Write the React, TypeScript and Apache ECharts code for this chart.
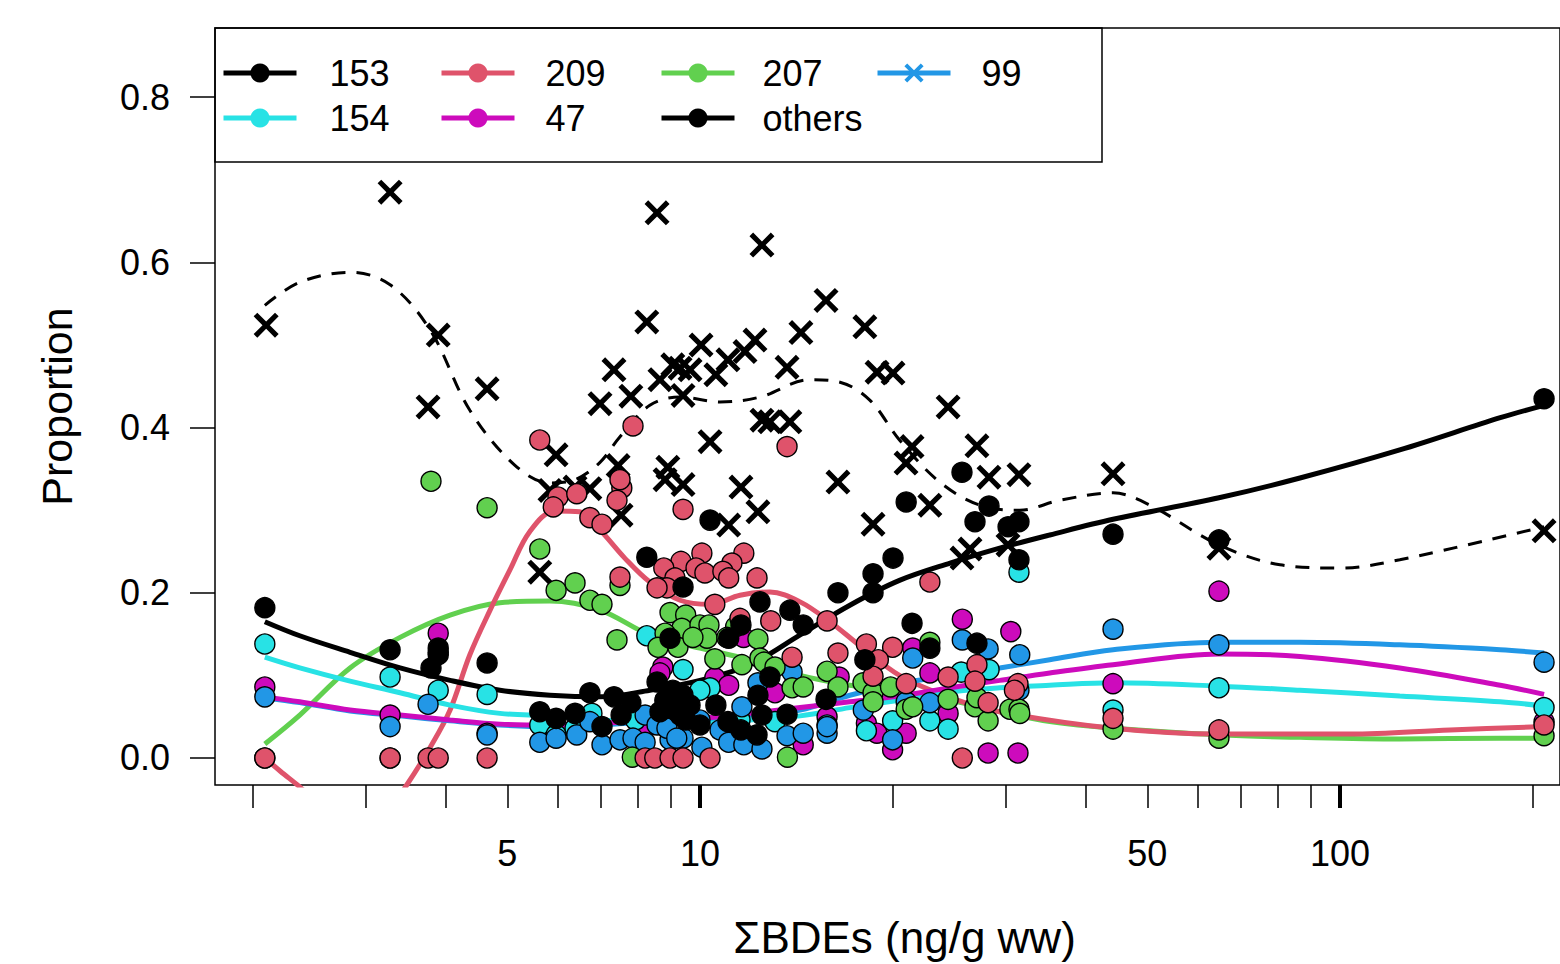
import React, { useEffect, useRef } from "react";
import * as echarts from "echarts";

const COLORS = { c153: "#000000", c154: "#28E2E5", c209: "#DF536B", c47: "#CD0BBC", c207: "#61D04F", others: "#000000", c99: "#2297E6" };
const X_PATH = "path://M0 3.5L3.5 0L12 8.5L20.5 0L24 3.5L15.5 12L24 20.5L20.5 24L12 15.5L3.5 24L0 20.5L8.5 12Z";

const xMinorTicks = [2, 3, 4, 5, 6, 7, 8, 9, 10, 20, 30, 40, 50, 60, 70, 80, 90, 100, 200];
const xMajorTicks = [10, 100];
const xTickLabels = [5, 10, 50, 100];
const yTickLabels = [0, 0.2, 0.4, 0.6, 0.8];

// fitted curves
const curveX = [2.09, 2.37, 2.84, 3.4, 4.07, 4.87, 5.83, 6.98, 8.35, 10, 11.97, 14.34, 17.15, 20.5, 24.6, 29.4, 35.2, 44.2, 64.7, 86.6, 124, 178, 208.4];
const curve153 = [0.165, 0.148, 0.128, 0.109, 0.094, 0.082, 0.076, 0.074, 0.082, 0.094, 0.113, 0.149, 0.185, 0.215, 0.236, 0.254, 0.27, 0.289, 0.315, 0.339, 0.373, 0.412, 0.427];
const curve154 = [0.122, 0.109, 0.093, 0.079, 0.064, 0.054, 0.051, 0.046, 0.044, 0.044, 0.046, 0.051, 0.061, 0.07, 0.08, 0.085, 0.088, 0.091, 0.087, 0.082, 0.075, 0.068, 0.063];
const curve47 = [0.074, 0.068, 0.058, 0.052, 0.046, 0.041, 0.04, 0.042, 0.045, 0.048, 0.054, 0.061, 0.068, 0.075, 0.085, 0.094, 0.103, 0.113, 0.126, 0.123, 0.109, 0.088, 0.077];
const curve99 = [0.073, 0.067, 0.057, 0.051, 0.045, 0.04, 0.038, 0.04, 0.044, 0.047, 0.052, 0.058, 0.076, 0.09, 0.1, 0.109, 0.119, 0.131, 0.14, 0.14, 0.137, 0.131, 0.127];
const curve207 = [0.017, 0.052, 0.109, 0.146, 0.173, 0.188, 0.19, 0.179, 0.149, 0.133, 0.119, 0.1, 0.088, 0.079, 0.07, 0.056, 0.044, 0.036, 0.028, 0.025, 0.023, 0.024, 0.024];
const curve209X = [2.09, 2.21, 2.37, 2.84, 3.22, 3.48, 3.79, 4.07, 4.37, 4.7, 5.05, 5.42, 5.93, 6.49, 6.98, 7.63, 8.35, 9.31, 10.37, 11.55, 12.86, 14.34, 15.96, 17.78, 20.5, 24.6, 29.4, 44.2, 64.7, 103.7, 148.6, 208.4];
const curve209 = [0, -0.016, -0.035, -0.087, -0.069, -0.033, 0.013, 0.058, 0.125, 0.179, 0.228, 0.274, 0.299, 0.298, 0.276, 0.242, 0.213, 0.191, 0.186, 0.197, 0.201, 0.189, 0.165, 0.136, 0.1, 0.073, 0.056, 0.036, 0.029, 0.029, 0.034, 0.038];
const curveOthersX = [2.09, 2.37, 2.84, 3.28, 3.79, 4.37, 5.13, 5.83, 6.38, 6.98, 7.5, 8.35, 9.31, 10.75, 12.41, 14.86, 16.55, 18.44, 20.5, 23.7, 27.4, 31.6, 36.5, 44.2, 50.5, 64.7, 80.6, 100, 124, 208.4];
const curveOthers = [0.548, 0.576, 0.588, 0.573, 0.518, 0.421, 0.355, 0.333, 0.337, 0.358, 0.389, 0.427, 0.437, 0.431, 0.437, 0.458, 0.455, 0.433, 0.385, 0.334, 0.306, 0.3, 0.312, 0.321, 0.306, 0.258, 0.234, 0.23, 0.24, 0.28];

// sample points [sum of BDEs, proportion]
const points153 = [[2.09,.182],[3.28,.131],[3.8,.109],[3.9,.133],[3.9,.125],[4.65,.115],[5.62,.056],[5.96,.048],[6.38,.054],[6.73,.079],[7.03,.038],[7.34,.074],[7.53,.052],[7.8,.067],[8.26,.243],[8.57,.092],[8.66,.056],[8.82,.07],[8.98,.145],[9.07,.082],[9.14,.058],[9.31,.052],[9.41,.207],[9.41,.076],[9.5,.046],[9.65,.064],[10,.04],[10.37,.288],[10.59,.064],[11.09,.145],[11.06,.044],[11.59,.034],[11.59,.161],[12.41,.189],[12.32,.076],[12.28,.028],[12.5,.052],[12.86,.098],[13.68,.053],[13.82,.179],[14.5,.161],[15.74,.071],[16.43,.2],[18.1,.119],[18.64,.223],[18.64,.2],[20.03,.242],[21,.31],[21.45,.163],[22.87,.133],[25.67,.346],[27.09,.139],[26.9,.286],[28.29,.305],[30.3,.28],[31.51,.286],[31.51,.24],[44.2,.271],[64.7,.264],[208.4,.435]];
const points209 = [[2.09,0],[3.28,0],[3.76,0],[3.9,0],[4.65,0],[5.62,.385],[6,.316],[6.42,.32],[5.9,.304],[6.73,.291],[7.03,.283],[7.55,.327],[7.5,.337],[7.42,.312],[7.86,.402],[9.41,.301],[13.68,.377],[8.21,0],[8.5,0],[8.98,0],[9.41,0],[10.37,0],[10.07,.248],[11.71,.248],[9.34,.238],[11.22,.236],[8.78,.23],[9.86,.23],[10.18,.224],[10.86,.226],[11.09,.218],[12.28,.218],[9.14,.218],[8.88,.206],[8.57,.206],[10.55,.186],[11.55,.169],[12.9,.166],[13.93,.122],[7.5,.219],[15.8,.166],[18.2,.138],[16.43,.127],[20,.134],[19,.119],[22.87,.213],[18.64,.099],[21,.09],[24.42,.098],[27.09,.113],[26.9,.093],[28.2,.067],[31.4,.09],[31,.082],[25.7,0],[44.2,.048],[64.7,.034],[208.4,.04]];
const points207 = [[2.09,0],[3.28,0],[3.8,.335],[4.65,.303],[5.62,.253],[5.96,.203],[6.38,.212],[6.73,.191],[7.03,.186],[7.42,.143],[7.5,.209],[7.84,.001],[8.98,.176],[9.5,.173],[9.37,.157],[10,.161],[10.33,.161],[8.82,.151],[10.26,.145],[8.6,.134],[9.24,.134],[10.55,.12],[11.63,.113],[12.32,.144],[12.41,.121],[9.75,.146],[11.37,.159],[11.02,.146],[12.59,.116],[13.1,.11],[13.93,.085],[14.5,.086],[15.8,.105],[16.43,.086],[17.98,.091],[18.64,.079],[18.64,.068],[19.85,.086],[21,.059],[21.5,.062],[22.87,.14],[24.42,.071],[26.9,.062],[27.09,.073],[28.2,.045],[30.5,.059],[31.51,.059],[31.6,.054],[44.2,.035],[64.7,.024],[208.4,.027],[13.7,.001]];
const points154 = [[2.09,.138],[3.28,.098],[3.9,.082],[4.65,.077],[5.62,.04],[5.96,.028],[6.38,.036],[6.78,.054],[7.93,.046],[8.26,.148],[9.41,.107],[10.37,.085],[10,.082],[11.55,.046],[13.1,.044],[18.2,.033],[15.8,.04],[20,.045],[22.87,.045],[24.42,.035],[25.6,.104],[28.3,.107],[31.51,.225],[44.2,.058],[64.7,.085],[208.4,.061]];
const points47 = [[2.09,.086],[3.28,.052],[3.9,.151],[4.65,.03],[8.15,.031],[8.75,.11],[8.66,.103],[10.55,.097],[11.09,.088],[13.1,.079],[11.7,.146],[14.5,.016],[16.5,.098],[18.2,.042],[18.9,.03],[21,.03],[20,.01],[21.5,.133],[22.87,.103],[24.42,.054],[25.7,.168],[30.6,.153],[28.2,.006],[31.4,.006],[44.2,.09],[64.7,.202],[15.8,.05],[208.4,.044]];
const points99 = [[2.09,.074],[3.28,.038],[3.76,.065],[3.9,.128],[4.65,.028],[5.62,.019],[5.96,.024],[6.42,.028],[6.73,.044],[7.03,.016],[7.5,.022],[7.86,.024],[8.21,.052],[8.57,.04],[8.21,.019],[8.98,.022],[9.41,.024],[8.88,.036],[9.2,.024],[10.07,.013],[10,.046],[8.82,.07],[10.75,.034],[11.09,.019],[11.71,.016],[12.5,.011],[11.63,.062],[12.32,.091],[13.93,.104],[13.68,.027],[14.5,.03],[15.8,.03],[15.8,.038],[18,.058],[22.87,.067],[20,.022],[21,.068],[31.51,.082],[21.5,.121],[25.7,.143],[28.2,.132],[31.6,.125],[44.2,.156],[64.7,.137],[208.4,.116]];
const pointsOthers = [[2.1,.524],[3.28,.685],[3.76,.425],[3.9,.512],[4.65,.447],[5.62,.225],[5.96,.367],[5.83,.324],[6.38,.328],[6.73,.326],[6.98,.429],[7.34,.47],[7.45,.354],[7.53,.294],[7.8,.438],[8.26,.528],[8.57,.66],[8.66,.458],[8.82,.337],[8.91,.352],[9.07,.476],[9.31,.472],[9.41,.331],[9.41,.439],[9.65,.47],[10.04,.5],[10.37,.383],[10.59,.464],[11.06,.482],[11.09,.282],[11.59,.328],[11.76,.492],[12.19,.506],[12.32,.298],[12.5,.621],[12.5,.409],[12.86,.407],[13.68,.473],[13.82,.407],[14.38,.515],[15.74,.554],[16.43,.334],[18.1,.522],[18.64,.283],[18.91,.467],[20.03,.466],[20.99,.357],[21.45,.377],[22.87,.306],[24.42,.425],[25.67,.242],[26.42,.253],[27.09,.378],[28.29,.34],[30.29,.258],[31.51,.343],[44.2,.344],[64.7,.254],[208.4,.275]];

const zip = (xs: number[], ys: number[]) => xs.map((x, i) => [x, ys[i]]);
const FONT = "Liberation Sans";

const curve = (name: string, xs: number[], ys: number[], color: string, symbol = "circle", dashed = false) => ({
  type: "line", name, data: zip(xs, ys), smooth: 0.35, showSymbol: false, symbol, z: 2, silent: true,
  itemStyle: { color },
  lineStyle: { color, width: dashed ? 3 : 5, type: dashed ? [14, 11] : "solid" },
});
const scatter = (name: string, data: number[][], color: string, z: number) => ({
  type: "scatter", name, data, symbol: "circle", symbolSize: 20, z, silent: true,
  itemStyle: { color, borderColor: "#000", borderWidth: 1.4, opacity: 1 },
});
const legend = (names: string[], left: number, textPad: number) => ({
  data: names, left, top: 55, orient: "vertical", padding: 0, itemWidth: 73, itemHeight: 24, itemGap: 9,
  selectedMode: false,
  lineStyle: { type: "solid", width: 5 },
  textStyle: { fontFamily: FONT, fontSize: 36, color: "#000", lineHeight: 36, padding: [0, 0, 0, textPad] },
});

export default function App() {
  const ref = useRef<HTMLDivElement>(null);
  useEffect(() => {
    const chart = echarts.init(ref.current!, undefined, { renderer: "svg" });
    chart.setOption({
      animation: false,
      backgroundColor: "#fff",
      grid: { left: 215, right: 0, top: 28, bottom: 179, outerBoundsMode: "none", show: true, borderColor: "#000", borderWidth: 1.5, backgroundColor: "transparent" },
      xAxis: [
        {
          type: "log", logBase: 10, min: 1.747, max: 220.7, position: "bottom",
          name: "\u03A3BDEs (ng/g ww)", nameLocation: "middle", nameGap: 130,
          nameTextStyle: { fontFamily: FONT, fontSize: 44, lineHeight: 44, color: "#000", padding: [0, 0, 0, 34] },
          axisLine: { show: false, onZero: false }, splitLine: { show: false }, minorTick: { show: false },
          axisTick: { show: true, length: 23, lineStyle: { color: "#000", width: 1.5 }, customValues: xMinorTicks },
          axisLabel: { show: true, margin: 50, customValues: xTickLabels, fontFamily: FONT, fontSize: 36, color: "#000", formatter: (v: number) => String(Math.round(v)) },
        },
        {
          type: "log", logBase: 10, min: 1.747, max: 220.7, position: "bottom",
          axisLine: { show: false, onZero: false }, splitLine: { show: false },
          axisTick: { show: true, length: 23, lineStyle: { color: "#000", width: 4 }, customValues: xMajorTicks },
          axisLabel: { show: false },
        },
      ],
      yAxis: {
        type: "value", min: -0.0327, max: 0.8838,
        name: "Proportion", nameLocation: "middle", nameGap: 137, nameRotate: 90,
        nameTextStyle: { fontFamily: FONT, fontSize: 43, color: "#000" },
        axisLine: { show: false, onZero: false }, splitLine: { show: false },
        axisTick: { show: true, length: 25, lineStyle: { color: "#000", width: 1.5 }, customValues: yTickLabels },
        axisLabel: { show: true, margin: 45, customValues: yTickLabels, fontFamily: FONT, fontSize: 36, color: "#000", formatter: (v: number) => v.toFixed(1) },
      },
      legend: [legend(["153", "154"], 221, 28), legend(["209", "47"], 439, 26), legend(["207", "others"], 659, 23), legend(["99"], 875, 26)],
      graphic: [{ type: "rect", shape: { x: 215, y: 28, width: 887, height: 134 }, style: { fill: "transparent", stroke: "#000", lineWidth: 1.5 }, z: 1, silent: true }],
      series: [
        curve("others", curveOthersX, curveOthers, COLORS.others, "circle", true),
        curve("207", curveX, curve207, COLORS.c207),
        curve("209", curve209X, curve209, COLORS.c209),
        curve("154", curveX, curve154, COLORS.c154),
        curve("99", curveX, curve99, COLORS.c99, X_PATH),
        curve("47", curveX, curve47, COLORS.c47),
        curve("153", curveX, curve153, COLORS.c153),
        { type: "scatter", name: "others", data: pointsOthers, symbol: X_PATH, symbolSize: 25, z: 3, silent: true, itemStyle: { color: "#000", opacity: 1 } },
        scatter("47", points47, COLORS.c47, 4),
        scatter("154", points154, COLORS.c154, 5),
        scatter("99", points99, COLORS.c99, 6),
        scatter("207", points207, COLORS.c207, 7),
        scatter("209", points209, COLORS.c209, 8),
        scatter("153", points153, COLORS.c153, 9),
      ],
    });
    return () => chart.dispose();
  }, []);
  return <div ref={ref} style={{ position: "absolute", left: 0, top: 0, width: 1560, height: 964 }} />;
}
